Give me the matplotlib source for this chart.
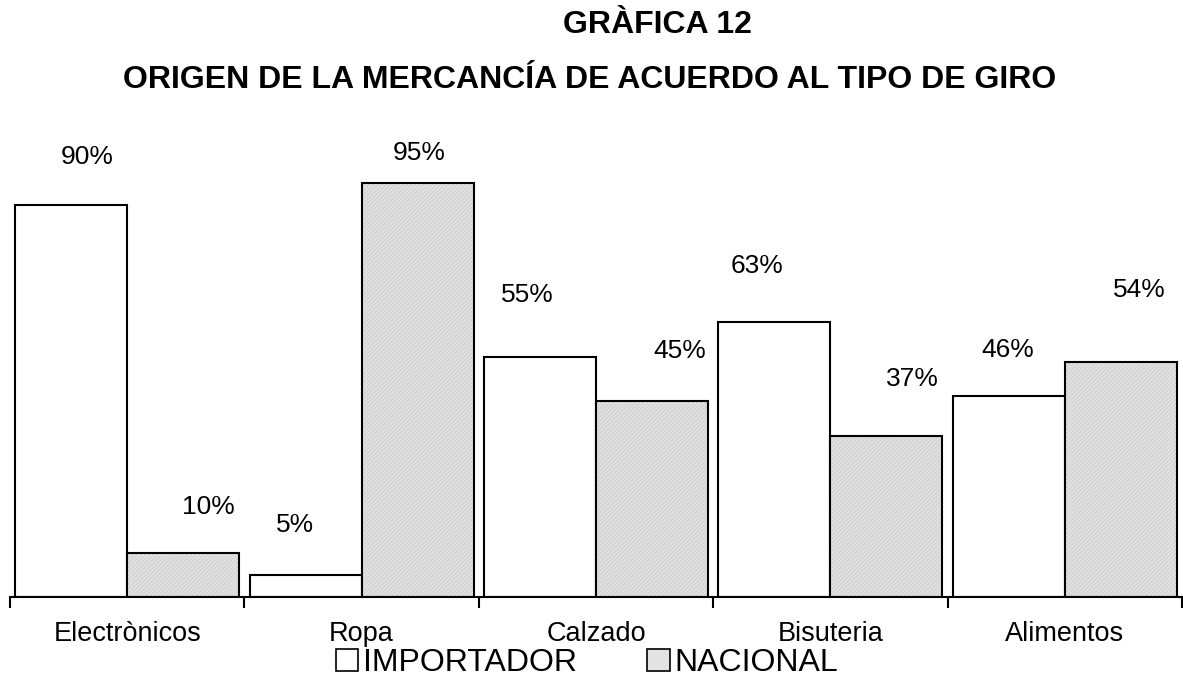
import matplotlib
matplotlib.use("Agg")
import matplotlib.pyplot as plt
from matplotlib.patches import Patch
import numpy as np

plt.rcParams['font.family'] = ['Liberation Sans', 'DejaVu Sans']

categories = ["Electrònicos", "Ropa", "Calzado", "Bisuteria", "Alimentos"]
importador = [90, 5, 55, 63, 46]
nacional = [10, 95, 45, 37, 54]
series_names = ["IMPORTADOR", "NACIONAL"]
title1 = "GRÀFICA 12"
title2 = "ORIGEN DE LA MERCANCÍA DE ACUERDO AL TIPO DE GIRO"

# label offsets (pixels) relative to bar top-center, mimicking the original placement
imp_off = [(16, 48), (-11, 50), (-13, 62), (-17, 56), (-1, 46)]
nac_off = [(25, 46), (2, 30), (28, 50), (26, 57), (19, 72)]

W, H = 1183, 692
fig = plt.figure(figsize=(W / 100, H / 100), dpi=100)
ax = fig.add_axes([10 / W, 95 / H, 1172 / W, 436 / H])

x = np.arange(len(categories))
bw = 0.478
gray = '#e3e3e3'

ax.bar(x - bw / 2, importador, bw, color='white', edgecolor='black', linewidth=1.5, zorder=2)
ax.bar(x + bw / 2, nacional, bw, color=gray, edgecolor='#d2d2d2', linewidth=0, hatch='////////', zorder=2)
ax.bar(x + bw / 2, nacional, bw, fill=False, edgecolor='black', linewidth=1.5, zorder=3)

for i in range(len(categories)):
    for val, xc, off in ((importador[i], x[i] - bw / 2, imp_off[i]), (nacional[i], x[i] + bw / 2, nac_off[i])):
        ax.annotate(f"{val}%", (xc, val), xytext=off, textcoords='offset pixels',
                    ha='center', va='center', fontsize=19)

ax.set_xlim(-0.5, len(categories) - 0.5)
ax.set_ylim(0, 100)
for s in ['top', 'right', 'left']:
    ax.spines[s].set_visible(False)
ax.spines['bottom'].set_linewidth(1.5)
ax.set_yticks([])
ax.set_xticks(np.arange(-0.5, len(categories), 1.0))
ax.set_xticklabels([])
ax.set_xticks(x, minor=True)
ax.set_xticklabels(categories, minor=True, fontsize=19.5)
ax.tick_params(axis='x', which='major', direction='out', length=8, width=1.5)
ax.tick_params(axis='x', which='minor', length=0, pad=17)

fig.text(657 / W, 1 - 25 / H, title1, ha='center', va='center', fontsize=23, fontweight='bold')
fig.text(590 / W, 1 - 80 / H, title2, ha='center', va='center', fontsize=23, fontweight='bold')

handles = [Patch(facecolor='white', edgecolor='black', linewidth=1.2),
           Patch(facecolor=gray, edgecolor='black', linewidth=1.2)]
fig.legend(handles, series_names, loc='center', bbox_to_anchor=(587 / W, 1 - 663 / H),
           ncol=2, frameon=False, fontsize=23, handlelength=0.7, handleheight=0.7,
           handletextpad=0.15, columnspacing=2.2, borderpad=0)

fig.savefig("out.png", dpi=100)
